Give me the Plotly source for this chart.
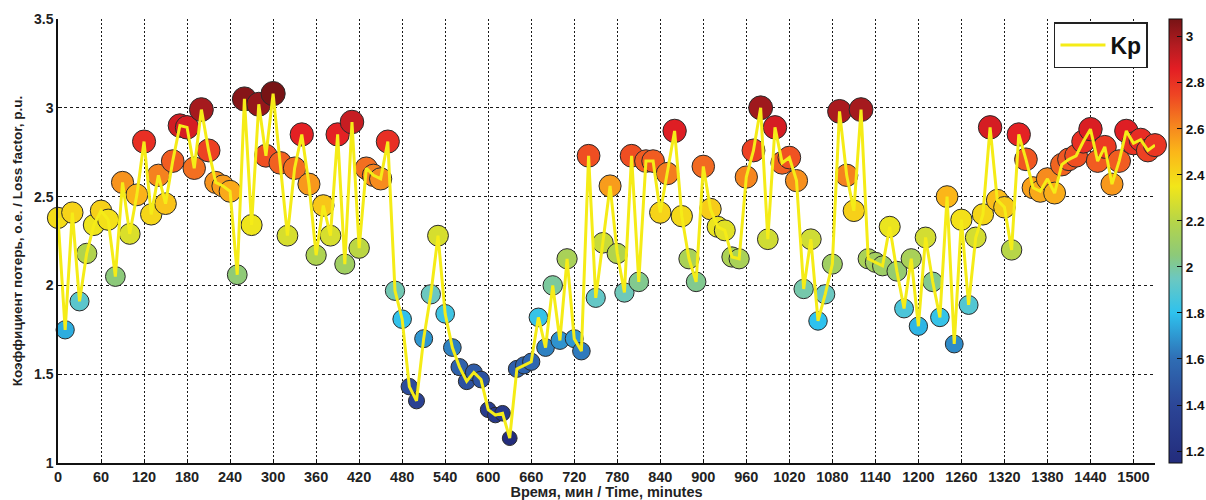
import numpy as np
import plotly.graph_objects as go

# ---- data ----
time_min = list(range(0, 1540, 10))
kp = [
    2.38, 1.75, 2.41, 1.91, 2.18, 2.34, 2.42, 2.37, 2.05, 2.58,
    2.29, 2.51, 2.81, 2.40, 2.62, 2.46, 2.70, 2.90, 2.89, 2.66,
    2.99, 2.76, 2.58, 2.56, 2.53, 2.06, 3.05, 2.34, 3.02, 2.73,
    3.08, 2.69, 2.28, 2.66, 2.85, 2.57, 2.17, 2.45, 2.28, 2.85,
    2.12, 2.92, 2.21, 2.66, 2.62, 2.60, 2.81, 1.97, 1.81, 1.43,
    1.35, 1.70, 1.95, 2.28, 1.84, 1.65, 1.54, 1.46, 1.51, 1.47,
    1.30, 1.27, 1.28, 1.14, 1.53, 1.55, 1.57, 1.82, 1.65, 2.00,
    1.69, 2.15, 1.70, 1.63, 2.73, 1.93, 2.24, 2.56, 2.18, 1.96,
    2.73, 2.02, 2.70, 2.70, 2.41, 2.63, 2.87, 2.39, 2.15, 2.02,
    2.67, 2.43, 2.33, 2.31, 2.16, 2.15, 2.61, 2.76, 3.00, 2.26,
    2.89, 2.69, 2.72, 2.59, 1.98, 2.26, 1.80, 1.95, 2.12, 2.98,
    2.62, 2.42, 2.99, 2.15, 2.13, 2.11, 2.33, 2.08, 1.87, 2.15,
    1.77, 2.27, 2.02, 1.82, 2.50, 1.67, 2.37, 1.89, 2.27, 2.40,
    2.89, 2.48, 2.44, 2.20, 2.85, 2.71, 2.55, 2.53, 2.60, 2.52,
    2.68, 2.71, 2.73, 2.81, 2.88, 2.70, 2.78, 2.57, 2.70, 2.87,
    2.80, 2.82, 2.76, 2.79,
]
x_ticks = list(range(0, 1501, 60))
y_ticks = [1, 1.5, 2, 2.5, 3, 3.5]
y_tick_labels = ["1", "1.5", "2", "2.5", "3", "3.5"]
cbar_ticks = [1.2, 1.4, 1.6, 1.8, 2.0, 2.2, 2.4, 2.6, 2.8, 3.0]
cbar_tick_labels = ["1.2", "1.4", "1.6", "1.8", "2", "2.2", "2.4", "2.6", "2.8", "3"]
series_name = "Kp"
x_title = "Время, мин / Time, minutes"
y_title = "Коэффициент потерь, о.е. / Loss factor, p.u."

CMIN, CMAX = 1.148, 3.077

def n(v):
    return (v - CMIN) / (CMAX - CMIN)

colorscale = [
    [0.0, "#232c7c"],
    [n(1.40), "#2c4697"],
    [n(1.60), "#2f6db4"],
    [n(1.80), "#2ec2ee"],
    [n(1.95), "#6cc8c0"],
    [n(2.05), "#8cc97a"],
    [n(2.20), "#b7d547"],
    [n(2.35), "#f2e619"],
    [n(2.50), "#fbb619"],
    [n(2.62), "#f5821f"],
    [n(2.75), "#ee4423"],
    [n(2.86), "#e31e24"],
    [n(2.96), "#b41c21"],
    [1.0, "#781315"],
]

sizes = [13.8 * np.sqrt(v) for v in kp]

font_family = "Liberation Sans, Arial, sans-serif"

fig = go.Figure()

fig.add_trace(go.Scatter(
    x=time_min, y=kp, mode="markers", showlegend=False,
    cliponaxis=False,
    marker=dict(
        size=sizes, color=kp, colorscale=colorscale, cmin=CMIN, cmax=CMAX,
        line=dict(color="#2a2a2a", width=1), opacity=1,
        showscale=True,
        colorbar=dict(
            x=1.0128, xanchor="left", xpad=0, y=0.5, yanchor="middle",
            len=1.0, lenmode="fraction", ypad=0, thickness=13,
            outlinecolor="#111", outlinewidth=1,
            tickvals=cbar_ticks, ticktext=cbar_tick_labels,
            ticks="inside", ticklen=5, tickcolor="#111",
            tickfont=dict(family=font_family, size=13.5, color="#111", weight="bold"),
        ),
    ),
    hoverinfo="x+y",
))

fig.add_trace(go.Scatter(
    x=time_min, y=kp, mode="lines", name=series_name,
    line=dict(color="#f5ec17", width=3),
    cliponaxis=False,
))

axis_common = dict(
    showline=True, linecolor="#111", linewidth=1.5, mirror=False,
    ticks="inside", ticklen=4, tickcolor="#111",
    showgrid=True, gridcolor="#1a1a1a", gridwidth=1.4,
    zeroline=False, automargin=False,
)

fig.update_layout(
    width=1206, height=500,
    margin=dict(l=58, r=51, t=19, b=37, autoexpand=False),
    paper_bgcolor="white", plot_bgcolor="white",
    font=dict(family=font_family, color="#222"),
    xaxis=dict(
        range=[0, 1530], tickvals=x_ticks, griddash="2px,2px",
        tickfont=dict(family=font_family, size=14.5, color="#222", weight="bold"),
        title=dict(text=x_title, standoff=2,
                   font=dict(family=font_family, size=14.5, color="#222", weight="bold")),
        **axis_common,
    ),
    yaxis=dict(
        range=[1, 3.5001], tickvals=y_ticks, ticktext=y_tick_labels, griddash="3px,3px",
        tickfont=dict(family=font_family, size=14, color="#222", weight="bold"),
        title=dict(text=y_title, standoff=8,
                   font=dict(family=font_family, size=13.5, color="#222", weight="bold")),
        **axis_common,
    ),
    legend=dict(
        x=0.9936, xanchor="right", y=0.993, yanchor="top",
        bgcolor="white", bordercolor="#222", borderwidth=1.5,
        font=dict(family=font_family, size=23, color="#111", weight="bold"),
        itemwidth=45,
    ),
)

fig.write_html("out.html", config={"displayModeBar": False},
               post_script="document.body.style.margin='0';")
